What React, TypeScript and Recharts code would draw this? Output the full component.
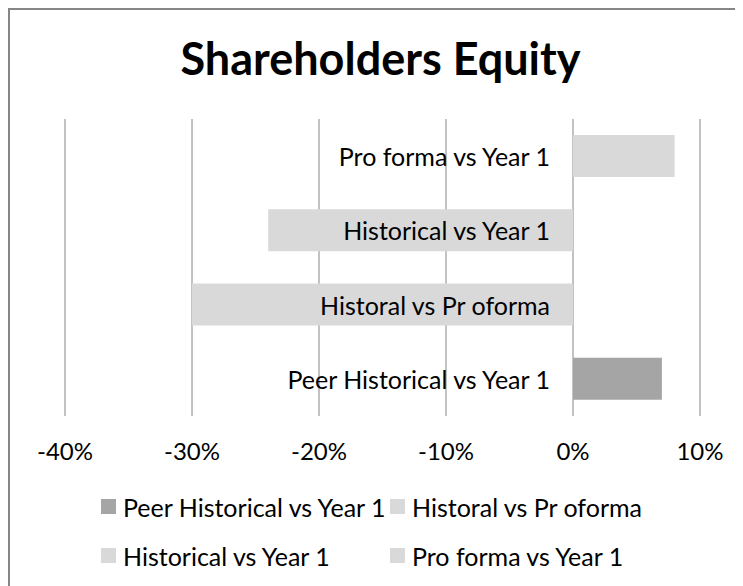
import { BarChart, Bar, Cell, XAxis, YAxis, CartesianGrid, LabelList } from "recharts";

const categories = [
  "Peer Historical vs Year 1",
  "Historal vs Pr oforma",
  "Historical vs Year 1",
  "Pro forma vs Year 1",
];
const changes = [0.07, -0.3, -0.24, 0.08];
const barColors = ["#a5a5a5", "#d9d9d9", "#d9d9d9", "#d9d9d9"];
const tickValues = [-0.4, -0.3, -0.2, -0.1, 0, 0.1];

const rows = categories.map((name, i) => ({ name, value: changes[i] }));

const FONT = "Lato, 'Open Sans', sans-serif";

// category name sits just left of the zero line
function CategoryLabel(props: any) {
  const { x, y, width, height, index, value } = props;
  const left = Math.min(x, x + width);
  const right = Math.max(x, x + width);
  const zero = value < 0 ? right : left;
  return (
    <text
      x={zero - 23}
      y={y + height / 2}
      textAnchor="end"
      dominantBaseline="central"
      fontSize={25}
      fontFamily={FONT}
      fill="#000"
    >
      {categories[index]}
    </text>
  );
}

export default function App() {
  return (
    <div style={{ position: "relative", width: 735, height: 578, fontFamily: FONT }}>
      <div
        style={{
          position: "absolute",
          left: 0,
          top: 0,
          right: 0,
          bottom: 0,
          borderLeft: "2px solid #868686",
          borderTop: "2px solid #868686",
        }}
      />
      <div
        style={{
          position: "absolute",
          top: 23,
          left: 5,
          width: 735,
          textAlign: "center",
          fontSize: 45,
          fontWeight: 700,
          lineHeight: 1.2,
          color: "#000",
        }}
      >
        Shareholders Equity
      </div>
      <div style={{ position: "absolute", left: 0, top: 0 }}>
        <BarChart
          width={735}
          height={470}
          data={rows}
          layout="vertical"
          margin={{ top: 111, right: 43, bottom: 0, left: 57 }}
        >
          <CartesianGrid horizontal={false} stroke="#868686" />
          <XAxis
            type="number"
            domain={[-0.4, 0.1]}
            ticks={tickValues}
            tickFormatter={(v: number) => `${Math.round(v * 100)}%`}
            axisLine={false}
            tickLine={false}
            tickSize={0}
            tickMargin={27}
            height={62}
            tick={{ fill: "#000", fontSize: 24, fontFamily: FONT }}
          />
          <YAxis type="category" dataKey="name" hide reversed />
          <Bar dataKey="value" barSize={42} isAnimationActive={false}>
            {rows.map((_, i) => (
              <Cell key={i} fill={barColors[i]} />
            ))}
            <LabelList dataKey="value" content={<CategoryLabel />} />
          </Bar>
        </BarChart>
      </div>
      <div
        style={{
          position: "absolute",
          left: 93,
          top: 484,
          display: "grid",
          gridTemplateColumns: "289px 260px",
          rowGap: 20,
          fontSize: 25,
          color: "#000",
        }}
      >
        {categories.map((name, i) => (
          <div
            key={name}
            style={{ display: "flex", alignItems: "center", height: 29, whiteSpace: "nowrap" }}
          >
            <span
              style={{
                display: "inline-block",
                width: 15,
                height: 15,
                background: barColors[i],
                marginRight: 7,
                flexShrink: 0,
              }}
            />
            {name}
          </div>
        ))}
      </div>
    </div>
  );
}
